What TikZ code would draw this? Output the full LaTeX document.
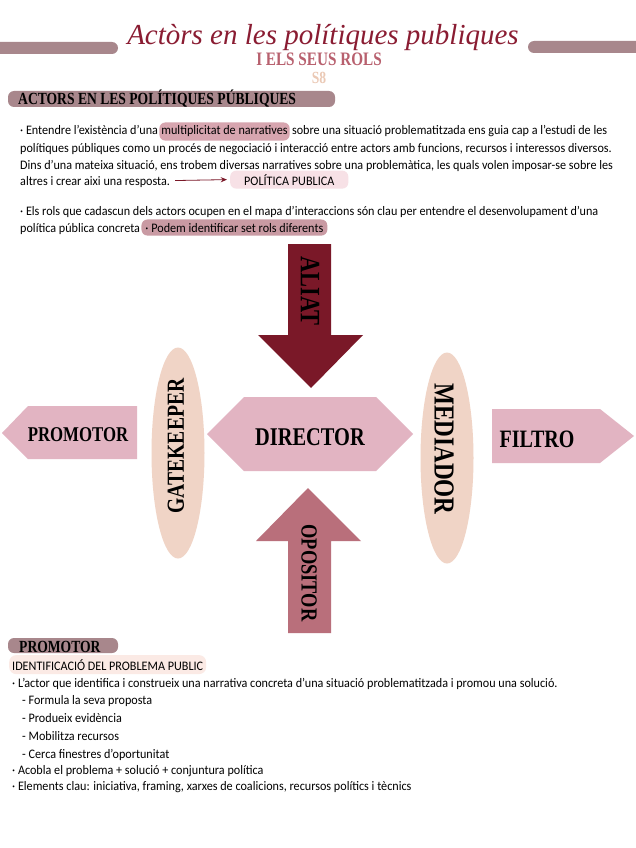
\documentclass[tikz,border=0pt]{standalone}
\usepackage{fontspec}
\setmainfont{Carlito}
\newfontfamily\handfont{Carlito}[FakeStretch=0.935]
\newfontfamily\dispfont{Liberation Serif}[FakeStretch=0.8]
\newfontfamily\titlefont{Liberation Serif}
\usetikzlibrary{shapes.geometric, arrows.meta, positioning, calc}

\definecolor{barmauve}{HTML}{A8878C}
\definecolor{titlered}{HTML}{8A1C32}
\definecolor{rolsrose}{HTML}{B8606E}
\definecolor{peach}{HTML}{F0D4C6}
\definecolor{lightpeach}{HTML}{EBC9B5}
\definecolor{hlrose}{HTML}{D7A5AF}
\definecolor{hldark}{HTML}{C99AA3}
\definecolor{palepink}{HTML}{F7E1E6}
\definecolor{palepeach}{HTML}{FBEAE5}
\definecolor{aliatred}{HTML}{7A1828}
\definecolor{rolepink}{HTML}{E2B4C2}
\definecolor{oprose}{HTML}{B96F7B}

\begin{document}
\begin{tikzpicture}[
    x=1pt, y=-1pt,
    bar/.style={fill=barmauve, rounded corners=6pt},
    body/.style={font=\handfont\fontsize{13}{15}\selectfont, anchor=base west, inner sep=0pt},
    hl/.style={body, rounded corners=6pt, inner xsep=2pt, inner ysep=3.5pt},
    head/.style={font=\dispfont\bfseries\fontsize{17}{18}\selectfont, anchor=base west, inner sep=0pt},
    role/.style={font=\dispfont\bfseries\fontsize{#1}{#1}\selectfont, inner sep=0pt},
    role/.default=22,
    oval/.style={ellipse, fill=peach, minimum width=211pt, minimum height=53pt, inner sep=0pt},
    arrow/.style={-{Stealth[length=2.2mm,width=1.8mm]}, thick, aliatred}
  ]
  \fill[white] (0,0) rectangle (636,848);
  \useasboundingbox (0,0) rectangle (636,848);

  % ---- Capcalera ----
  \fill[bar] (-10,42) rectangle (118,54);
  \fill[bar] (528,41) rectangle (646,53);
  \node[font=\dispfont\bfseries\fontsize{19}{19}\selectfont, text=rolsrose, inner sep=0pt] (rols) at (319,59) {I ELS SEUS ROLS};
  \node[font=\dispfont\bfseries\fontsize{17}{17}\selectfont, text=lightpeach, inner sep=0pt] (s8) at (319,78) {S8};
  \node[font=\titlefont\itshape\fontsize{29}{29}\selectfont, text=titlered, inner sep=0pt] (titol) at (323,38) {Actòrs en les polítiques publiques};

  % ---- Actors en les politiques publiques ----
  \fill[bar] (8,91) rectangle (335,107);
  \node[head] (sec1) at (18,104.5) {ACTORS EN LES POLÍTIQUES PÚBLIQUES};

  \node[body] (p1a) at (20,135) {· Entendre l’existència d’una};
  \node[hl, fill=hlrose, anchor=base west] (p1b) at ($(p1a.base east)+(1,0)$) {multiplicitat de narratives};
  \node[body] (p1c) at ($(p1b.base east)+(2,0)$) {sobre una situació problematitzada ens guia cap a l’estudi de les};
  \node[body] (p2) at (20,152) {polítiques públiques como un procés de negociació i interacció entre actors amb funcions, recursos i interessos diversos.};
  \node[body] (p3) at (20,169) {Dins d’una mateixa situació, ens trobem diversas narratives sobre una problemàtica, les quals volen imposar-se sobre les};
  \node[body] (p4) at (20,185) {altres i crear aixi una resposta.};
  \node[hl, fill=palepink, inner xsep=14pt] (pp) at (230,185) {POLÍTICA PUBLICA};
  \draw[arrow] ($(p4.east)+(5,-1)$) -- ($(pp.west)+(-3,0)$);

  \node[body] (q1) at (20,215) {· Els rols que cadascun dels actors ocupen en el mapa d’interaccions són clau per entendre el desenvolupament d’una};
  \node[body] (q2a) at (20,232) {política pública concreta};
  \node[hl, fill=hldark, inner xsep=4pt, anchor=base west] (q2b) at ($(q2a.base east)+(1,0)$) {· Podem identificar set rols diferents\hspace{8pt}};

  % ---- Mapa de rols ----
  \fill[aliatred] (288,244) -- (331,244) -- (331,335) -- (363,335) -- (311,388)
    -- (258,335) -- (288,335) -- cycle;
  \node[role=28, rotate=-90] (aliat) at (310,291) {ALIAT};

  \fill[rolepink] (207,434) -- (244,397) -- (376,397) -- (413,434) -- (376,471) -- (244,471) -- cycle;
  \node[role=25.5] (director) at (310,437) {DIRECTOR};

  \fill[rolepink] (2,433) -- (28,406) -- (137,406) -- (137,459) -- (28,459) -- cycle;
  \node[role=21] (promotor) at (78,435) {PROMOTOR};

  \fill[rolepink] (492,409) -- (600,409) -- (634,436) -- (600,463) -- (492,463) -- cycle;
  \node[role=25] (filtro) at (537,439) {FILTRO};

  \node[oval, rotate=90] (gate) at (178,453) {};
  \node[role=24.5, rotate=90] (gatek) at (176,446) {GATEKEEPER};
  \node[oval, rotate=90] (medi) at (447,458) {};
  \node[role=29, rotate=-90] (mediador) at (444,449) {MEDIADOR};

  \fill[oprose] (308,488) -- (361,541) -- (331,541) -- (331,633) -- (288,633) -- (288,541)
    -- (256,541) -- cycle;
  \node[role=23, rotate=-90] (opositor) at (309,573) {OPOSITOR};

  % ---- Promotor ----
  \fill[bar] (8,638) rectangle (118,653);
  \node[head] (sec2) at (19,652) {PROMOTOR};
  \node[hl, fill=palepeach, inner xsep=3pt, inner ysep=4pt, rounded corners=7pt] (ident) at (9,670) {IDENTIFICACIÓ DEL PROBLEMA PUBLIC\hspace{18pt}};
  \node[body] (r1) at (12,687) {· L’actor que identifica i construeix una narrativa concreta d’una situació problematitzada i promou una solució.};
  \node[body] (r2) at (22,704) {- Formula la seva proposta};
  \node[body] (r3) at (22,722) {- Produeix evidència};
  \node[body] (r4) at (22,740) {- Mobilitza recursos};
  \node[body] (r5) at (22,758) {- Cerca finestres d’oportunitat};
  \node[body] (r6) at (12,774) {· Acobla el problema + solució + conjuntura política};
  \node[body] (r7) at (12,790) {· Elements clau: iniciativa, framing, xarxes de coalicions, recursos polítics i tècnics};
\end{tikzpicture}
\end{document}
